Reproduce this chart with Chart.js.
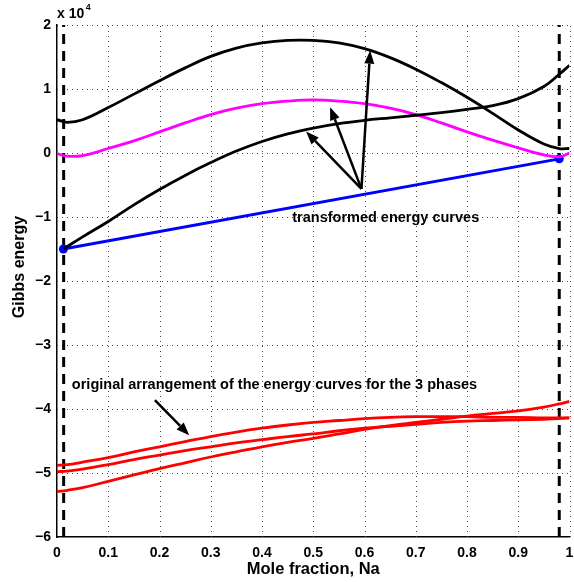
<!DOCTYPE html>
<html>
<head>
<meta charset="utf-8">
<script src="https://cdn.jsdelivr.net/npm/chart.js@4.4.0/dist/chart.umd.min.js"></script>
<style>
  html, body { margin: 0; padding: 0; background: #fff; }
</style>
</head>
<body>
<canvas id="gibbs" width="574" height="582"></canvas>
<script>
// mole fraction grid (Na)
const molFrac = [0, 0.02, 0.05, 0.1, 0.15, 0.2, 0.25, 0.3, 0.35, 0.4, 0.45, 0.5,
  0.55, 0.6, 0.65, 0.7, 0.75, 0.8, 0.85, 0.9, 0.95, 0.98, 1.0];

// original energy curves, x 10^4 (red)
const origA = [-4.88, -4.87, -4.83, -4.76, -4.67, -4.59, -4.51, -4.43, -4.36, -4.30, -4.25, -4.21,
  -4.18, -4.15, -4.13, -4.12, -4.12, -4.12, -4.13, -4.13, -4.14, -4.14, -4.14];
const origB = [-4.98, -4.97, -4.94, -4.87, -4.79, -4.72, -4.65, -4.59, -4.53, -4.48, -4.43, -4.39,
  -4.34, -4.30, -4.27, -4.24, -4.21, -4.19, -4.18, -4.17, -4.16, -4.15, -4.14];
const origC = [-5.29, -5.27, -5.23, -5.13, -5.03, -4.93, -4.84, -4.75, -4.67, -4.59, -4.52, -4.46,
  -4.39, -4.32, -4.26, -4.21, -4.16, -4.11, -4.07, -4.03, -3.97, -3.92, -3.88];

// transformed energy curves, x 10^4
const transUpper = [0.52, 0.48, 0.52, 0.71, 0.92, 1.13, 1.33, 1.51, 1.64, 1.72, 1.76, 1.76,
  1.72, 1.63, 1.49, 1.31, 1.10, 0.87, 0.62, 0.36, 0.14, 0.07, 0.07];
const transMagenta = [-0.01, -0.05, -0.04, 0.07, 0.19, 0.33, 0.47, 0.60, 0.70, 0.77, 0.81, 0.83,
  0.81, 0.77, 0.70, 0.60, 0.47, 0.33, 0.20, 0.08, -0.03, -0.06, 0.0];
const lowerFrac = [0.0125, 0.05, 0.1, 0.15, 0.2, 0.25, 0.3, 0.35, 0.4, 0.45, 0.5,
  0.55, 0.6, 0.65, 0.7, 0.75, 0.8, 0.85, 0.9, 0.95, 0.98, 1.0];
const transLower = [-1.5, -1.31, -1.07, -0.81, -0.57, -0.35, -0.15, 0.03, 0.18, 0.30, 0.39,
  0.46, 0.51, 0.55, 0.59, 0.63, 0.68, 0.74, 0.85, 1.04, 1.23, 1.37];

// common tangent (blue) and phase boundaries (dashed)
const tangentX = [0.0125, 0.98];
const tangentY = [-1.5, -0.09];
const boundaryX = [0.013, 0.98];

const xTicks = [0, 0.1, 0.2, 0.3, 0.4, 0.5, 0.6, 0.7, 0.8, 0.9, 1];
const yTicks = [-6, -5, -4, -3, -2, -1, 0, 1, 2];

// annotations (data coords)
const arrowBase = [0.594, -0.56];
const arrowTips = [[0.486, 0.335], [0.533, 0.716], [0.611, 1.60]];
const origArrow = [[0.191, -3.86], [0.258, -4.41]];
const labelTrans = { text: "transformed energy curves", x: 0.459, y: -1.01 };
const labelOrig = { text: "original arrangement of the energy curves for the 3 phases", x: 0.029, y: -3.63 };

const pts = (xs, ys) => xs.map((x, i) => ({ x: x, y: ys[i] }));

const line = (data, color, extra) => Object.assign({
  data: data, borderColor: color, backgroundColor: color, borderWidth: 2.8,
  pointRadius: 0, showLine: true, tension: 0.4, fill: false
}, extra || {});

const datasets = [
  line(pts(molFrac, origA), "#ff0000"),
  line(pts(molFrac, origB), "#ff0000"),
  line(pts(molFrac, origC), "#ff0000"),
  line(pts(molFrac, transUpper), "#000000"),
  line(pts(lowerFrac, transLower), "#000000"),
  line(pts(molFrac, transMagenta), "#ff00ff"),
  line(pts(tangentX, tangentY), "#0000ff", { pointRadius: 4.5, pointBorderWidth: 0, tension: 0 }),
];
boundaryX.forEach(bx => {
  datasets.push(line([{ x: bx, y: -6 }, { x: bx, y: 2 }], "#000000",
    { borderWidth: 3, borderDash: [10, 7], tension: 0 }));
});

const fontFamily = "'Liberation Sans', Arial, Helvetica, sans-serif";

function drawArrow(ctx, x0, y0, x1, y1) {
  const ang = Math.atan2(y1 - y0, x1 - x0);
  const head = 13, half = 5;
  const bx = x1 - head * Math.cos(ang), by = y1 - head * Math.sin(ang);
  ctx.beginPath();
  ctx.moveTo(x0, y0);
  ctx.lineTo(bx, by);
  ctx.stroke();
  ctx.beginPath();
  ctx.moveTo(x1, y1);
  ctx.lineTo(bx + half * Math.sin(ang), by - half * Math.cos(ang));
  ctx.lineTo(bx - half * Math.sin(ang), by + half * Math.cos(ang));
  ctx.closePath();
  ctx.fill();
}

// matlab style dotted grid
const dottedGrid = {
  id: "dottedGrid",
  beforeDatasetsDraw(chart) {
    const { ctx, scales: { x, y }, chartArea: a } = chart;
    ctx.save();
    ctx.strokeStyle = "#444";
    ctx.lineWidth = 1;
    ctx.setLineDash([1, 4]);
    xTicks.slice(1).forEach(v => {
      const px = Math.round(x.getPixelForValue(v)) + 0.5;
      ctx.beginPath(); ctx.moveTo(px, a.bottom); ctx.lineTo(px, a.top); ctx.stroke();
    });
    yTicks.slice(1).forEach(v => {
      const py = Math.round(y.getPixelForValue(v)) + 0.5;
      ctx.beginPath(); ctx.moveTo(a.left, py); ctx.lineTo(a.right, py); ctx.stroke();
    });
    ctx.restore();
  }
};

const annotate = {
  id: "annotate",
  afterDraw(chart) {
    const { ctx, scales: { x, y }, chartArea } = chart;
    ctx.save();
    ctx.strokeStyle = "#000";
    ctx.fillStyle = "#000";
    ctx.lineWidth = 2.5;
    const bx = x.getPixelForValue(arrowBase[0]), by = y.getPixelForValue(arrowBase[1]);
    arrowTips.forEach(t => drawArrow(ctx, bx, by, x.getPixelForValue(t[0]), y.getPixelForValue(t[1])));
    drawArrow(ctx, x.getPixelForValue(origArrow[0][0]), y.getPixelForValue(origArrow[0][1]),
      x.getPixelForValue(origArrow[1][0]), y.getPixelForValue(origArrow[1][1]));

    ctx.font = "bold 14.5px " + fontFamily;
    ctx.textAlign = "left";
    ctx.textBaseline = "middle";
    [labelTrans, labelOrig].forEach(l => {
      ctx.fillText(l.text, x.getPixelForValue(l.x), y.getPixelForValue(l.y));
    });

    // exponent label
    ctx.textBaseline = "alphabetic";
    ctx.font = "bold 14px " + fontFamily;
    ctx.fillText("x 10", chartArea.left, 18);
    const w = ctx.measureText("x 10").width;
    ctx.font = "bold 9px " + fontFamily;
    ctx.fillText("4", chartArea.left + w + 1.5, 10);

    // axis titles
    ctx.font = "bold 16.5px " + fontFamily;
    ctx.textAlign = "center";
    ctx.textBaseline = "middle";
    ctx.fillText("Mole fraction, Na", (chartArea.left + chartArea.right) / 2, 569);
    ctx.save();
    ctx.translate(20, 267);
    ctx.rotate(-Math.PI / 2);
    ctx.font = "bold 16px " + fontFamily;
    ctx.fillText("Gibbs energy", 0, 0);
    ctx.restore();
    ctx.restore();
  }
};

const ctx = document.getElementById("gibbs").getContext("2d");
new Chart(ctx, {
  type: "scatter",
  data: { datasets },
  options: {
    responsive: false,
    animation: false,
    events: [],
    layout: { padding: { top: 25, right: 1.5, left: 0, bottom: 0 } },
    plugins: { legend: { display: false }, tooltip: { enabled: false } },
    scales: {
      x: {
        type: "linear",
        min: 0,
        max: 1,
        afterBuildTicks: s => { s.ticks = xTicks.map(v => ({ value: v })); },
        afterFit: s => { s.height = 45; s.paddingLeft = 0; s.paddingRight = 0; },
        grid: { display: false, drawTicks: false },
        border: { display: true, color: "#000", width: 1.5 },
        ticks: {
          color: "#000",
          padding: 8,
          maxRotation: 0,
          font: { family: fontFamily, size: 14, weight: "bold" },
          callback: v => (v === 0 || v === 1) ? String(v) : v.toFixed(1),
        },
      },
      y: {
        type: "linear",
        min: -6,
        max: 2,
        afterBuildTicks: s => { s.ticks = yTicks.map(v => ({ value: v })); },
        afterFit: s => { s.width = 57; s.paddingTop = 0; s.paddingBottom = 0; },
        grid: { display: false, drawTicks: false },
        border: { display: true, color: "#000", width: 1.5 },
        ticks: {
          color: "#000",
          padding: 6,
          font: { family: fontFamily, size: 14, weight: "bold" },
          callback: v => v < 0 ? "\u2212" + Math.abs(v) : String(v),
        },
      },
    },
  },
  plugins: [dottedGrid, annotate],
});
</script>
</body>
</html>
